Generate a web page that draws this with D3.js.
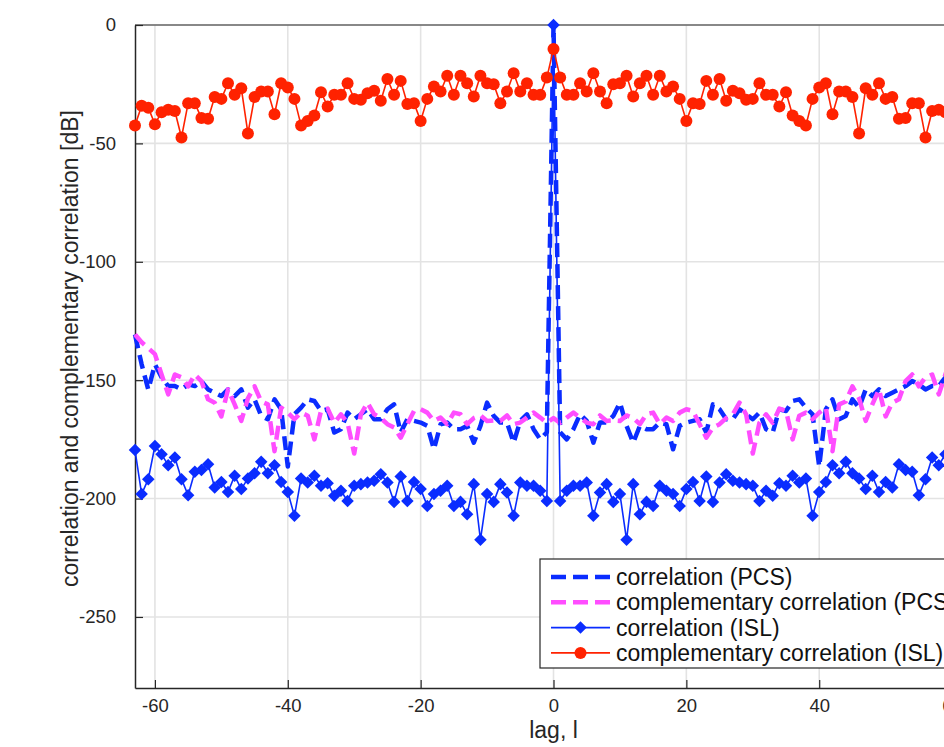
<!DOCTYPE html>
<html>
<head>
<meta charset="utf-8">
<script src="https://cdn.jsdelivr.net/npm/d3@7"></script>
<style>
  html, body { margin: 0; padding: 0; background: #fff; overflow: hidden; }
  svg { display: block; font-family: "Liberation Sans", Arial, Helvetica, sans-serif; }
</style>
</head>
<body>
<svg id="chart" width="944" height="747"></svg>
<script>
// ---------------- data ----------------
const lags = d3.range(-63, 64);

const corrPCS = [
  -130.7,-143.3,-154.0,-143.3,-148.8,-152.5,-152.5,-153.9,-151.8,-152.5,-150.4,-153.9,-155.3,-156.7,-153.9,-156.7,-153.9,-161.6,-158.1,-165.1,-166.5,-158.1,-162.3,-186.5,-164.4,-161.6,-158.1,-158.8,-163.0,-162.3,-172.1,-170.7,-163.7,-166.5,-164.4,-162.3,-166.5,-166.5,-162.3,-160.2,-172.1,-166.5,-167.2,-167.9,-169.3,-179.2,-168.6,-167.9,-170.7,-170.7,-169.3,-176.4,-169.3,-159.5,-165.1,-167.9,-167.9,-176.4,-167.2,-164.4,-170.7,-175.0,-172.0,
  0,
  -172.0,-175.0,-170.7,-164.4,-167.2,-176.4,-167.9,-167.9,-165.1,-159.5,-169.3,-176.4,-169.3,-170.7,-170.7,-167.9,-168.6,-179.2,-169.3,-167.9,-167.2,-166.5,-172.1,-160.2,-162.3,-166.5,-166.5,-162.3,-164.4,-166.5,-163.7,-170.7,-172.1,-162.3,-163.0,-158.8,-158.1,-161.6,-164.4,-186.5,-162.3,-158.1,-166.5,-165.1,-158.1,-161.6,-153.9,-156.7,-153.9,-156.7,-155.3,-153.9,-152.5,-150.4,-151.8,-153.9,-152.5,-152.5,-148.8,-143.3,-154.0,-143.3,-130.7
];

const compPCS = [
  -130.7,-134.0,-136.5,-139.0,-147.6,-156.0,-147.6,-148.8,-152.6,-147.6,-150.4,-158.1,-159.5,-165.3,-153.9,-160.2,-167.2,-157.7,-152.6,-159.0,-160.2,-180.0,-161.6,-163.7,-166.5,-163.7,-165.0,-175.0,-163.0,-162.0,-168.0,-164.4,-168.0,-181.0,-164.4,-159.5,-164.4,-166.0,-168.6,-170.0,-174.3,-168.6,-163.0,-162.3,-163.7,-167.2,-165.8,-168.6,-163.7,-164.4,-168.6,-166.0,-164.9,-167.2,-167.0,-167.2,-164.9,-168.6,-167.9,-165.8,-163.7,-165.8,-168.0,
  -166.0,
  -168.0,-165.8,-163.7,-165.8,-167.9,-168.6,-164.9,-167.2,-167.0,-167.2,-164.9,-166.0,-168.6,-164.4,-163.7,-168.6,-165.8,-167.2,-163.7,-162.3,-163.0,-168.6,-174.3,-170.0,-168.6,-166.0,-164.4,-159.5,-164.4,-181.0,-168.0,-164.4,-168.0,-162.0,-163.0,-175.0,-165.0,-163.7,-166.5,-163.7,-161.6,-180.0,-160.2,-159.0,-152.6,-157.7,-167.2,-160.2,-153.9,-165.3,-159.5,-158.1,-150.4,-147.6,-152.6,-148.8,-147.6,-156.0,-147.6,-139.0,-136.5,-134.0,-130.7
];

const corrISL = [
  -179.5,-198.1,-191.8,-177.8,-181.3,-185.9,-182.7,-191.8,-198.6,-188.7,-187.9,-185.5,-195.3,-193.0,-197.2,-190.4,-196.0,-191.5,-189.3,-184.5,-189.3,-185.9,-193.0,-197.2,-207.3,-191.5,-193.2,-190.4,-194.6,-193.5,-198.8,-196.7,-201.0,-194.6,-193.9,-193.2,-192.5,-189.7,-193.2,-201.4,-190.7,-201.0,-193.0,-196.0,-203.1,-198.1,-196.7,-194.6,-203.1,-201.4,-206.6,-193.9,-217.4,-198.1,-201.4,-193.9,-197.4,-207.3,-193.2,-194.6,-194.6,-196.7,-201.0,
  0,
  -201.0,-196.7,-194.6,-194.6,-193.2,-207.3,-197.4,-193.9,-201.4,-198.1,-217.4,-193.9,-206.6,-201.4,-203.1,-194.6,-196.7,-198.1,-203.1,-196.0,-193.0,-201.0,-190.7,-201.4,-193.2,-189.7,-192.5,-193.2,-193.9,-194.6,-201.0,-196.7,-198.8,-193.5,-194.6,-190.4,-193.2,-191.5,-207.3,-197.2,-193.0,-185.9,-189.3,-184.5,-189.3,-191.5,-196.0,-190.4,-197.2,-193.0,-195.3,-185.5,-187.9,-188.7,-198.6,-191.8,-182.7,-185.9,-181.3,-177.8,-191.8,-198.1,-179.5
];

const compISL = [
  -42.4,-34.1,-34.9,-41.9,-36.8,-35.8,-36.3,-47.5,-33.0,-33.0,-39.3,-39.6,-30.4,-31.2,-24.6,-29.5,-26.7,-45.8,-30.4,-28.1,-28.1,-37.7,-24.6,-26.4,-31.2,-42.4,-40.5,-38.2,-28.4,-34.4,-29.5,-29.5,-24.6,-31.2,-31.6,-28.8,-27.8,-32.0,-22.8,-29.5,-23.6,-33.4,-33.0,-40.5,-31.2,-26.0,-28.1,-21.4,-29.5,-21.4,-24.6,-30.2,-21.4,-24.6,-25.0,-33.0,-28.1,-20.4,-28.1,-24.6,-29.5,-29.5,-22.2,
  -10.1,
  -22.2,-29.5,-29.5,-24.6,-28.1,-20.4,-28.1,-33.0,-25.0,-24.6,-21.4,-30.2,-24.6,-21.4,-29.5,-21.4,-28.1,-26.0,-31.2,-40.5,-33.0,-33.4,-23.6,-29.5,-22.8,-32.0,-27.8,-28.8,-31.6,-31.2,-24.6,-29.5,-29.5,-34.4,-28.4,-38.2,-40.5,-42.4,-31.2,-26.4,-24.6,-37.7,-28.1,-28.1,-30.4,-45.8,-26.7,-29.5,-24.6,-31.2,-30.4,-39.6,-39.3,-33.0,-33.0,-47.5,-36.3,-35.8,-36.8,-41.9,-34.9,-34.1,-42.4
];

const xTicks = [-60, -40, -20, 0, 20, 40, 60];
const yTicks = [0, -50, -100, -150, -200, -250];
const xDomain = [-63, 63];
const yDomain = [-280, 0];

const seriesNames = ["correlation (PCS)", "complementary correlation (PCS)", "correlation (ISL)", "complementary correlation (ISL)"];
const xLabel = "lag, l";
const yLabel = "correlation and complementary correlation [dB]";

// ---------------- styles ----------------
const BLUE = "#0a2cff";
const MAGENTA = "#ff4dff";
const RED = "#ff2200";
const series = [
  { name: seriesNames[0], values: corrPCS, color: BLUE, width: 4.5, dash: "14,7", marker: null },
  { name: seriesNames[1], values: compPCS, color: MAGENTA, width: 4.5, dash: "14,7", marker: null },
  { name: seriesNames[2], values: corrISL, color: BLUE, width: 1.6, dash: null, marker: "diamond" },
  { name: seriesNames[3], values: compISL, color: RED, width: 1.6, dash: null, marker: "circle" }
];

// ---------------- layout ----------------
const svg = d3.select("#chart");
const pL = 135, pR = 972, pT = 25, pB = 688;
const x = d3.scaleLinear().domain(xDomain).range([pL, pR]);
const y = d3.scaleLinear().domain(yDomain).range([pB, pT]);

// grid
const grid = svg.append("g");
grid.selectAll(".gx").data(xTicks).join("line")
  .attr("x1", d => x(d)).attr("x2", d => x(d))
  .attr("y1", pT).attr("y2", pB)
  .attr("stroke", "#e3e3e3").attr("stroke-width", 1.6);
grid.selectAll(".gy").data(yTicks).join("line")
  .attr("x1", pL).attr("x2", pR)
  .attr("y1", d => y(d)).attr("y2", d => y(d))
  .attr("stroke", "#e3e3e3").attr("stroke-width", 1.6);

// axes (MATLAB style, ticks inward, ASCII hyphen minus)
const fmt = d => String(d);
const xAxis = d3.axisBottom(x).tickValues(xTicks).tickSizeInner(-8).tickSizeOuter(0).tickPadding(11).tickFormat(fmt);
const yAxis = d3.axisLeft(y).tickValues(yTicks).tickSizeInner(-8).tickSizeOuter(0).tickPadding(19).tickFormat(fmt);

const gx = svg.append("g").attr("transform", `translate(0,${pB})`).call(xAxis);
const gy = svg.append("g").attr("transform", `translate(${pL},0)`).call(yAxis);
[gx, gy].forEach(g => {
  g.select(".domain").attr("stroke", "#262626").attr("stroke-width", 1.5);
  g.selectAll(".tick line").attr("stroke", "#262626").attr("stroke-width", 1.2);
  g.selectAll(".tick text").attr("fill", "#262626").attr("font-size", 18.5)
    .attr("font-family", "'Liberation Sans', Arial, sans-serif");
});
gx.selectAll(".tick text").attr("dy", "0.71em");
// top border
svg.append("line").attr("x1", pL).attr("x2", pR).attr("y1", pT).attr("y2", pT)
  .attr("stroke", "#262626").attr("stroke-width", 1.2);

// axis labels
svg.append("text").attr("x", x(0)).attr("y", 738).attr("text-anchor", "middle")
  .attr("font-size", 23).attr("fill", "#262626").text(xLabel);
svg.append("text").attr("transform", `translate(78,${(pT + pB) / 2 - 8}) rotate(-90)`)
  .attr("text-anchor", "middle").attr("font-size", 23).attr("fill", "#262626").text(yLabel);

// series
const line = d3.line().x((d, i) => x(lags[i])).y(d => y(d));
const plot = svg.append("g");
const diamond = d3.symbol().type(d3.symbolDiamond2).size(100);
series.forEach(s => {
  plot.append("path").datum(s.values)
    .attr("d", line).attr("fill", "none")
    .attr("stroke", s.color).attr("stroke-width", s.width)
    .attr("stroke-dasharray", s.dash)
    .attr("stroke-linejoin", "round");
  if (s.marker === "circle") {
    plot.append("g").selectAll("circle").data(s.values).join("circle")
      .attr("cx", (d, i) => x(lags[i])).attr("cy", d => y(d)).attr("r", 6)
      .attr("fill", s.color);
  } else if (s.marker === "diamond") {
    plot.append("g").selectAll("path").data(s.values).join("path")
      .attr("d", diamond)
      .attr("transform", (d, i) => `translate(${x(lags[i])},${y(d)})`)
      .attr("fill", s.color);
  }
});

// legend
const lg = svg.append("g").attr("transform", "translate(540,559)");
lg.append("rect").attr("x", 0).attr("y", 0).attr("width", 430).attr("height", 109)
  .attr("fill", "#fff").attr("stroke", "#262626").attr("stroke-width", 1.2);
series.forEach((s, i) => {
  const cy = 18 + i * 25.3;
  lg.append("line").attr("x1", 11).attr("x2", 70).attr("y1", cy).attr("y2", cy)
    .attr("stroke", s.color).attr("stroke-width", s.dash ? 4.5 : 1.6)
    .attr("stroke-dasharray", s.dash ? "15,7" : null);
  if (s.marker === "circle") {
    lg.append("circle").attr("cx", 40.5).attr("cy", cy).attr("r", 6).attr("fill", s.color);
  } else if (s.marker === "diamond") {
    lg.append("path").attr("d", diamond)
      .attr("transform", `translate(40.5,${cy})`).attr("fill", s.color);
  }
  lg.append("text").attr("x", 76).attr("y", cy).attr("dy", "0.35em")
    .attr("font-size", 23).attr("fill", "#111").text(s.name);
});
</script>
</body>
</html>
